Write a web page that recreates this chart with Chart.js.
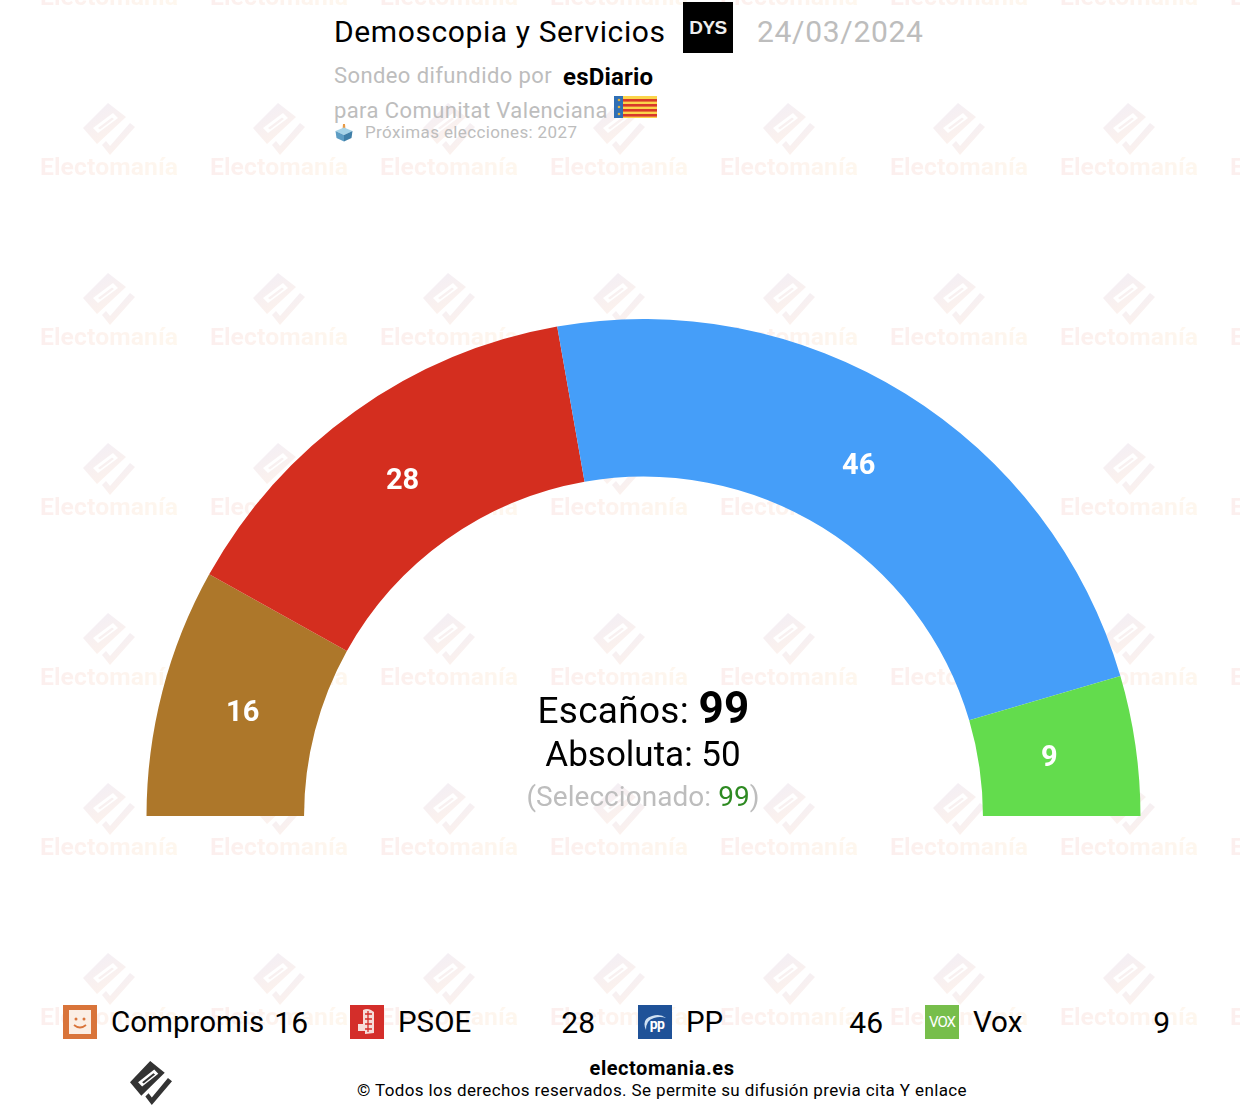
<!DOCTYPE html>
<html lang="es">
<head>
<meta charset="utf-8">
<title>Demoscopia y Servicios</title>
<script src="https://cdn.jsdelivr.net/npm/chart.js@4/dist/chart.umd.min.js"></script>
<style>
  html, body { margin: 0; padding: 0; background: #fff; }
  body { width: 1240px; height: 1108px; overflow: hidden; position: relative; font-family: Roboto, sans-serif; color: #000; }
  #marks, #marks * { position: absolute; }
  #marks { left: 0; top: 0; width: 1240px; height: 1108px; overflow: hidden; }
  .wmtext { font-weight: 700; font-size: 24.700px; line-height: 26px; white-space: nowrap; letter-spacing: 0.1px;
    background: linear-gradient(90deg, #fcefee, #fef7ee); -webkit-background-clip: text; background-clip: text; color: transparent; }
  #chartbox { position: absolute; left: 0; top: 319px; width: 1287px; height: 497px; }
  .t { position: absolute; white-space: nowrap; line-height: 1; }
  .grey { color: #bdbdbd; }
  .c { text-align: center; }
  .icon { position: absolute; }
</style>
</head>
<body>
<svg width="0" height="0" style="position:absolute">
  <defs>
    <linearGradient id="wmfill" x1="0" y1="0" x2="0.6" y2="1"><stop offset="0" stop-color="#f1eef7"/><stop offset="1" stop-color="#fdf2ec"/></linearGradient>
    <symbol id="elogo" viewBox="0 0 52 52" preserveAspectRatio="none">
      <path fill-rule="evenodd" d="M25 0 L43 14 L14 41 L0 25 Z M10 25 L30 10 L35 15 L15 30 Z M15 25 L29 14.500 L31 16 L17 26.500 Z"/>
      <path d="M19 42 L23 38 L27 43 L47 20 L52 24 L27 52 Z"/>
    </symbol>
  </defs>
</svg>
<div id="marks"></div>
<div id="chartbox"><canvas id="seats"></canvas></div>

<div class="t" style="left:334px;top:17px;font-size:30px;letter-spacing:0.6px">Demoscopia y Servicios</div>
<svg class="icon" style="left:683px;top:2px" width="50" height="51"><rect width="50" height="51" fill="#000"/><text x="25" y="32" text-anchor="middle" font-family="Liberation Sans" font-weight="700" font-size="19" letter-spacing="-0.5" fill="#eee">DYS</text></svg>
<div class="t grey" style="left:757px;top:17px;font-size:30px;letter-spacing:0.7px">24/03/2024</div>
<div class="t grey" style="left:334px;top:65px;font-size:22px;letter-spacing:0.4px">Sondeo difundido por</div>
<div class="t" style="left:563px;top:65px;font-size:24px;font-weight:700;letter-spacing:0.2px">esDiario</div>
<div class="t grey" style="left:334px;top:100px;font-size:22px;letter-spacing:0.4px">para Comunitat Valenciana</div>
<svg class="icon" style="left:614px;top:96px" width="43" height="22">
  <rect width="43" height="22" fill="#fbd44a"/>
  <rect x="9" y="3" width="34" height="2.6" fill="#d8382a"/><rect x="9" y="8" width="34" height="2.6" fill="#d8382a"/>
  <rect x="9" y="13" width="34" height="2.6" fill="#d8382a"/><rect x="9" y="18" width="34" height="2.6" fill="#d8382a"/>
  <rect width="9" height="22" fill="#2f6fb5"/>
  <circle cx="5" cy="4" r="1.300" fill="#e3b13c"/><circle cx="5" cy="11" r="1.300" fill="#e3b13c"/><circle cx="5" cy="18" r="1.300" fill="#e3b13c"/>
</svg>
<svg class="icon" style="left:335px;top:123px" width="18" height="19">
  <path d="M8 1 L10 1 L10.500 7 L7.500 7 Z" fill="#e89a45"/>
  <path d="M9 4.500 L17.500 8 L9 12 L0.500 8 Z" fill="#a5d3e8"/>
  <path d="M0.500 8 L9 12 L9 18.500 L1.500 15 Z" fill="#5d9dc4"/>
  <path d="M17.500 8 L9 12 L9 18.500 L16.500 15 Z" fill="#3f7fa8"/>
</svg>
<div class="t grey" style="left:365px;top:124px;font-size:17px;letter-spacing:0.37px">Próximas elecciones: 2027</div>

<div class="t c" style="left:443.500px;width:400px;top:686px;font-size:37px;letter-spacing:0.3px">Escaños: <b style="font-size:44px">99</b></div>
<div class="t c" style="left:443px;width:400px;top:737px;font-size:35px">Absoluta: 50</div>
<div class="t c grey" style="left:443px;width:400px;top:783px;font-size:28px;letter-spacing:0.05px">(Seleccionado: <span style="color:#2e8a22">99</span>)</div>

<div id="legend"></div>

<svg class="icon" style="left:130px;top:1061px;fill:#333" width="42" height="44"><use href="#elogo" width="42" height="44"/></svg>
<div class="t c" style="left:462px;width:400px;top:1058px;font-size:20px;font-weight:700;letter-spacing:0.55px">electomania.es</div>
<div class="t c" style="left:262px;width:800px;top:1082px;font-size:17px;letter-spacing:0.38px">© Todos los derechos reservados. Se permite su difusión previa cita Y enlace</div>

<script>
const parties = ['Compromis', 'PSOE', 'PP', 'Vox'];
const seats = [16, 28, 46, 9];
const partyColors = ['#ad772a', '#d42e1f', '#459ef9', '#63dc4d'];

// marca de agua de fondo
const marks = document.getElementById('marks');
for (let r = 0; r < 7; r++) {
    for (let c = 0; c < 8; c++) {
        const x = 40 + c * 170;
        const y = -41 + r * 170;
        const txt = document.createElement('div');
        txt.className = 'wmtext';
        txt.textContent = 'Electomanía';
        txt.style.left = x + 'px';
        txt.style.top = (y + 25) + 'px';
        marks.appendChild(txt);
        marks.insertAdjacentHTML('beforeend',
            `<svg style="left:${x + 43}px;top:${y - 26}px;fill:url(#wmfill)" width="52" height="52"><use href="#elogo" width="52" height="52"/></svg>`);
    }
}

// leyenda
const legendX = [63, 350, 638, 925];
const legendIcons = [
    '<rect width="34" height="34" fill="#d9743a"/><rect x="6" y="5" width="22" height="24" fill="#fbeee4"/><circle cx="13" cy="14" r="1.500" fill="#d9743a"/><circle cx="21" cy="14" r="1.500" fill="#d9743a"/><path d="M11 20 Q17 25 23 20" fill="none" stroke="#d9743a" stroke-width="1.800"/>',
    '<rect width="34" height="34" fill="#d42e2a"/><path d="M13 5 Q17 3 21 5 L24 7 L24 28 L15 29 L15 26 L8 26 L8 19 L13 19 Z" fill="#f6dcd9"/><path d="M15 9 H22 M15 14 H22 M15 19 H22 M15 24 H22 M18 6 V27" stroke="#d42e2a" stroke-width="1.300"/>',
    '<rect width="34" height="34" fill="#1f5298"/><path d="M8 25 Q3 14 14 11 Q22 8 28 13 Q22 11 16 13 Q8 15 8 25 Z" fill="#cfe0f2"/><text x="19" y="24" text-anchor="middle" font-family="Roboto" font-weight="700" font-size="14" letter-spacing="-0.5" fill="#fff">pp</text>',
    '<rect width="34" height="34" fill="#77be4b"/><text x="17" y="22" text-anchor="middle" font-family="Roboto" font-size="15" letter-spacing="-1" fill="#fff">VOX</text>'
];
const legend = document.getElementById('legend');
parties.forEach((name, i) => {
    legend.insertAdjacentHTML('beforeend',
        `<svg class="icon" style="left:${legendX[i]}px;top:1005px" width="34" height="34">${legendIcons[i]}</svg>
         <div class="t" style="left:${legendX[i] + 48}px;top:1008px;font-size:29.500px">${name}</div>
         <div class="t" style="left:${legendX[i] + 145}px;width:100px;text-align:right;top:1008px;font-size:30px">${seats[i]}</div>`);
});

// numeros dentro de cada sector, un poco hacia el centro del anillo
const sliceLabels = {
    id: 'sliceLabels',
    afterDatasetsDraw(chart) {
        const ctx = chart.ctx;
        const meta = chart.getDatasetMeta(0);
        ctx.save();
        ctx.fillStyle = '#fff';
        ctx.font = '700 29px Roboto';
        ctx.textAlign = 'center';
        ctx.textBaseline = 'middle';
        meta.data.forEach((arc, i) => {
            const p = arc.getCenterPoint();
            const k = 0.985;
            ctx.fillText(seats[i], arc.x + (p.x - arc.x) * k - 2, arc.y + (p.y - arc.y) * k + 1);
        });
        ctx.restore();
    }
};

document.fonts.load('700 29px Roboto').finally(() => {
    new Chart(document.getElementById('seats'), {
        type: 'doughnut',
        data: {
            labels: parties,
            datasets: [{
                data: seats,
                backgroundColor: partyColors,
                borderWidth: 0
            }]
        },
        options: {
            responsive: true,
            maintainAspectRatio: false,
            animation: false,
            rotation: -90,
            circumference: 180,
            cutout: '68.3%',
            plugins: {
                legend: { display: false },
                tooltip: { enabled: false }
            }
        },
        plugins: [sliceLabels]
    });
});
</script>
</body>
</html>
